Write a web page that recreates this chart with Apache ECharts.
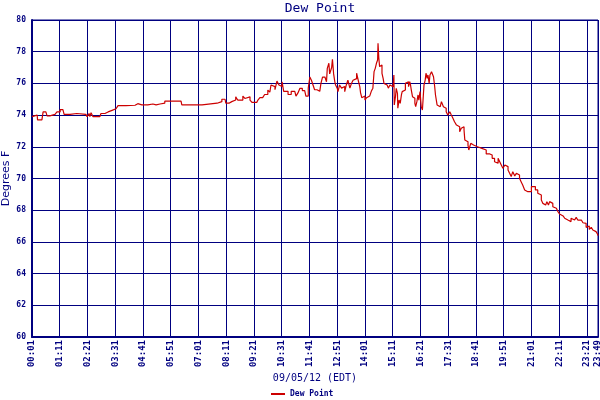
<!DOCTYPE html>
<html>

<head>
    <meta charset="utf-8" />
    <script src="https://cdn.jsdelivr.net/npm/echarts@6/dist/echarts.min.js"></script>
</head>

<body style="margin:0">
    <div id="main" style="width: 600px; height:400px;"></div>
    <script type="text/javascript">
        var myChart = echarts.init(document.getElementById('main'));

        // readings (EDT clock time) and dew point in degrees F
        var times = [
            '00:01', '00:06', '00:14', '00:15', '00:26', '00:29', '00:36', '00:39', '00:44', '00:46',
            '00:59', '01:04', '01:12', '01:19', '01:22', '01:37', '01:54', '02:17', '02:20', '02:25',
            '02:27', '02:30', '02:35', '02:52', '02:55', '03:05', '03:13', '03:23', '03:33', '03:38',
            '03:58', '04:21', '04:26', '04:28', '04:38', '04:41', '04:53', '05:06', '05:14', '05:24',
            '05:36', '06:17', '06:19', '07:10', '07:12', '07:48', '07:50', '08:00', '08:08', '08:10',
            '08:18', '08:25', '08:35', '08:40', '08:53', '08:58', '09:03', '09:11', '09:16', '09:28',
            '09:31', '09:36', '09:43', '09:48', '09:56', '10:01', '10:04', '10:09', '10:14', '10:19',
            '10:24', '10:29', '10:32', '10:36', '10:47', '10:55', '11:04', '11:07', '11:12', '11:17',
            '11:23', '11:29', '11:32', '11:38', '11:42', '11:46', '11:50', '11:54', '12:00', '12:07',
            '12:10', '12:14', '12:20', '12:24', '12:26', '12:30', '12:32', '12:37', '12:39', '12:42',
            '12:45', '12:47', '12:51', '12:53', '12:57', '13:02', '13:06', '13:10', '13:14', '13:18',
            '13:23', '13:27', '13:31', '13:35', '13:40', '13:44', '13:48', '13:50', '13:53', '13:56',
            '14:01', '14:05', '14:09', '14:13', '14:17', '14:21', '14:24', '14:27', '14:30', '14:33',
            '14:34', '14:36', '14:38', '14:41', '14:44', '14:47', '14:49', '14:53', '14:57', '15:00',
            '15:04', '15:08', '15:12', '15:14', '15:15', '15:18', '15:20', '15:23', '15:24', '15:27',
            '15:30', '15:33', '15:35', '15:39', '15:43', '15:46', '15:48', '15:51', '15:54', '15:56',
            '15:58', '16:01', '16:04', '16:07', '16:09', '16:12', '16:15', '16:17', '16:20', '16:23',
            '16:26', '16:28', '16:30', '16:33', '16:35', '16:38', '16:40', '16:43', '16:45', '16:49',
            '16:51', '16:54', '16:57', '16:59', '17:03', '17:07', '17:11', '17:14', '17:16', '17:19',
            '17:22', '17:26', '17:30', '17:35', '17:39', '17:43', '17:47', '17:52', '17:56', '18:00',
            '18:04', '18:08', '18:11', '18:13', '18:17', '18:21', '18:23', '18:28', '18:31', '18:35',
            '18:40', '18:45', '18:50', '18:56', '19:00', '19:07', '19:16', '19:22', '19:28', '19:32',
            '19:37', '19:41', '19:45', '19:49', '19:52', '19:54', '19:58', '20:02', '20:06', '20:10',
            '20:14', '20:19', '20:23', '20:27', '20:31', '20:35', '20:39', '20:44', '20:48', '20:52',
            '20:56', '21:01', '21:03', '21:06', '21:11', '21:17', '21:22', '21:26', '21:30', '21:34',
            '21:37', '21:40', '21:44', '21:47', '21:51', '21:55', '22:00', '22:04', '22:08', '22:12',
            '22:16', '22:21', '22:25', '22:29', '22:33', '22:37', '22:41', '22:46', '22:50', '22:54',
            '22:58', '23:02', '23:07', '23:11', '23:15', '23:19', '23:23', '23:27', '23:32', '23:36',
            '23:40', '23:44', '23:48', '23:49'
        ];
        var dewPoint = [
            73.9, 74.0, 74.0, 73.7, 73.7, 74.2, 74.2, 73.95, 73.95, 74.05,
            74.1, 74.2, 74.35, 74.35, 74.05, 74.1, 74.05, 74.05, 73.9, 74.1,
            73.9, 74.15, 73.9, 73.95, 74.1, 74.2, 74.3, 74.4, 74.5, 74.6,
            74.62, 74.65, 74.72, 74.65, 74.72, 74.65, 74.7, 74.65, 74.7, 74.75,
            74.88, 74.88, 74.64, 74.64, 74.75, 74.75, 74.85, 75.0, 75.1, 74.75,
            74.85, 74.95, 75.16, 74.95, 75.2, 75.05, 75.15, 74.95, 74.8, 74.8,
            74.95, 75.1, 75.1, 75.3, 75.58, 75.45, 75.9, 75.8, 75.6, 76.15,
            75.9, 75.8, 76.1, 75.5, 75.3, 75.5, 75.5, 75.2, 75.4, 75.69,
            75.55, 75.45, 75.2, 75.7, 76.4, 76.2, 75.9, 75.6, 75.5, 75.5,
            76.0, 76.4, 76.5, 76.1, 76.95, 77.27, 76.6, 77.0, 77.52, 76.6,
            76.1, 75.9, 75.7, 75.48, 75.9, 75.7, 75.8, 75.48, 75.9, 76.2,
            75.7, 76.0, 76.2, 76.3, 76.64, 76.2, 75.8, 75.4, 75.1, 75.2,
            74.95, 75.1, 75.2, 75.3, 75.5, 75.7, 76.74, 76.95, 77.27, 77.48,
            78.53, 77.6, 77.06, 77.16, 76.64, 76.3, 76.0, 75.9, 75.8, 75.7,
            75.9, 75.79, 75.9, 76.53, 74.64, 75.16, 75.69, 75.37, 74.43, 74.95,
            74.74, 75.27, 75.48, 75.58, 76.0, 75.9, 76.11, 75.79, 76.11, 75.9,
            75.58, 75.16, 75.06, 74.74, 74.53, 74.85, 75.27, 74.95, 75.48, 74.53,
            74.32, 74.21, 75.9, 76.21, 76.64, 76.32, 76.53, 76.0, 76.53, 76.74,
            76.85, 76.42, 75.79, 75.27, 74.64, 74.53, 74.64, 74.85, 74.95, 74.53,
            74.43, 74.21, 74.0, 74.21, 74.0, 73.8, 73.58, 73.37, 73.27, 72.95,
            73.17, 73.27, 73.06, 72.43, 72.32, 72.11, 71.8, 72.22, 72.11, 72.0,
            72.0, 72.0, 71.9, 71.9, 71.8, 71.55, 71.48, 71.27, 71.06, 70.96,
            71.27, 71.06, 70.85, 70.64, 70.54, 70.85, 70.75, 70.54, 70.33, 70.12,
            70.43, 70.16, 70.33, 70.22, 70.01, 69.8, 69.59, 69.28, 69.17, 69.28,
            69.17, 69.49, 69.59, 69.49, 69.28, 69.07, 68.96, 68.64, 68.43, 68.33,
            68.22, 68.54, 68.33, 68.54, 68.43, 68.22, 68.12, 68.01, 67.91, 67.76,
            67.64, 67.55, 67.49, 67.38, 67.49, 67.28, 67.49, 67.38, 67.38, 67.55,
            67.38, 67.38, 67.28, 67.21, 67.17, 66.92, 67.0, 66.79, 66.92, 66.75,
            66.65, 66.58, 66.48, 66.4
        ];

        var startTime = '00:01';
        var endTime = '23:49';

        function toMin(t) {
            var p = t.split(':');
            return (+p[0]) * 60 + (+p[1]);
        }
        function pad(n) {
            return (n < 10 ? '0' : '') + n;
        }
        // x axis runs in minutes since the first reading
        var t0 = toMin(startTime);
        var data = [];
        for (var i = 0; i < times.length; i++) {
            data.push([toMin(times[i]) - t0, dewPoint[i]]);
        }

        var navy = '#000080';
        var mono = 'DejaVu Sans Mono';

        var option = {
            animation: false,
            backgroundColor: '#fff',
            title: {
                text: 'Dew Point',
                left: 315,
                textAlign: 'center',
                top: -3,
                textStyle: { color: navy, fontFamily: mono, fontSize: 13, fontWeight: 'normal' }
            },
            legend: {
                bottom: -3,
                left: 266,
                itemWidth: 14,
                itemHeight: 2,
                itemGap: 4,
                icon: 'rect',
                data: ['Dew Point'],
                textStyle: { color: navy, fontFamily: mono, fontSize: 8, fontWeight: 'bold' }
            },
            grid: {
                left: 32,
                right: 2,
                top: 20,
                bottom: 63,
                containLabel: false,
                outerBoundsMode: 'none',
                show: true,
                borderColor: navy,
                borderWidth: 1
            },
            xAxis: {
                type: 'value',
                min: 0,
                max: toMin(endTime) - t0,
                interval: 70,
                name: '09/05/12 (EDT)',
                nameLocation: 'middle',
                nameGap: 36,
                nameMoveOverlap: false,
                nameTextStyle: { color: navy, fontFamily: mono, fontSize: 10 },
                axisLine: { lineStyle: { color: navy, width: 2 } },
                axisTick: { show: false },
                axisLabel: {
                    rotate: 90,
                    color: navy,
                    fontFamily: mono,
                    fontSize: 9,
                    fontWeight: 'bold',
                    margin: 3,
                    showMinLabel: true,
                    showMaxLabel: true,
                    hideOverlap: false,
                    formatter: function (v) {
                        var m = v + t0;
                        return pad(Math.floor(m / 60)) + ':' + pad(m % 60);
                    }
                },
                splitLine: { show: true, lineStyle: { color: navy, width: 1 } }
            },
            yAxis: {
                type: 'value',
                min: 60,
                max: 80,
                interval: 2,
                name: 'Degrees F',
                nameLocation: 'middle',
                nameGap: 20,
                nameMoveOverlap: false,
                nameRotate: 90,
                nameTextStyle: { color: navy, fontFamily: 'DejaVu Sans', fontSize: 11 },
                axisLine: { show: true, lineStyle: { color: navy, width: 2 } },
                axisTick: { show: false },
                axisLabel: {
                    color: navy,
                    fontFamily: mono,
                    fontSize: 8,
                    fontWeight: 'bold',
                    margin: 6
                },
                splitLine: { show: true, lineStyle: { color: navy, width: 1 } }
            },
            series: [
                {
                    name: 'Dew Point',
                    type: 'line',
                    step: 'end',
                    showSymbol: false,
                    color: '#cc0000',
                    lineStyle: { width: 1.2, color: '#cc0000' },
                    data: data
                }
            ]
        };

        myChart.setOption(option);
    </script>
</body>

</html>
